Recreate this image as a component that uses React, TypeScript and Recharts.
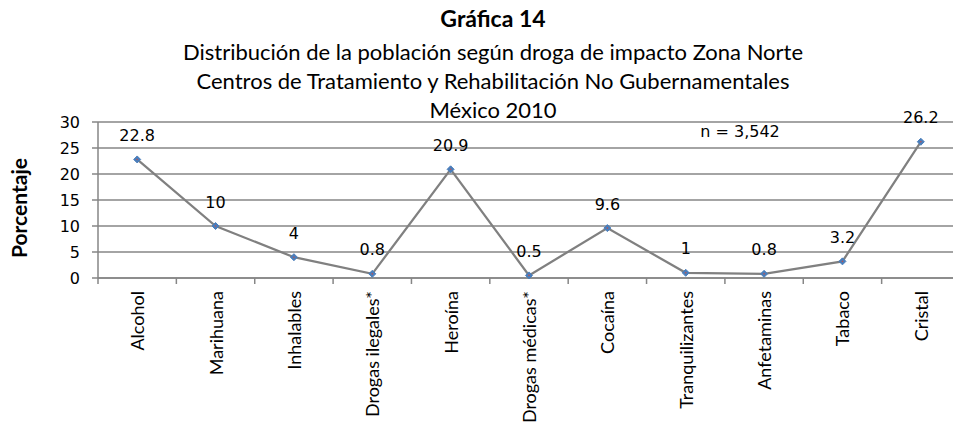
import { LineChart, Line, XAxis, YAxis, CartesianGrid, LabelList } from "recharts";

// Drug of impact, Zona Norte, 2010
const categories = [
  "Alcohol",
  "Marihuana",
  "Inhalables",
  "Drogas ilegales*",
  "Heroína",
  "Drogas médicas*",
  "Cocaína",
  "Tranquilizantes",
  "Anfetaminas",
  "Tabaco",
  "Cristal",
];
const values = [22.8, 10, 4, 0.8, 20.9, 0.5, 9.6, 1, 0.8, 3.2, 26.2];
const yTicks = [0, 5, 10, 15, 20, 25, 30];

const titleLines = [
  "Distribución de la población según droga de impacto Zona Norte",
  "Centros de Tratamiento y Rehabilitación No Gubernamentales",
  "México 2010",
];

const data = categories.map((name, i) => ({ name, value: values[i] }));

const GRID = "#868686";
const NUM_FONT = "'DejaVu Sans', sans-serif";
const TEXT_FONT = "Lato, 'Open Sans', sans-serif";
const X_TICK_SIZE = 6;
const X_TICK_MARGIN = 7;

const Diamond = (props: any) => {
  const { cx, cy } = props;
  if (cx == null || cy == null) return null;
  const r = 3.5;
  return (
    <g>
      <polygon
        points={`${cx},${cy - r} ${cx + r},${cy} ${cx},${cy + r} ${cx - r},${cy}`}
        fill="#4a7ebb"
        stroke="#4a7ebb"
      />
      <circle cx={cx} cy={cy} r={0.8} fill="#c0504d" />
    </g>
  );
};

const ValueLabel = (props: any) => {
  const { x, y, value } = props;
  return (
    <text
      x={x}
      y={y - 24}
      textAnchor="middle"
      dominantBaseline="central"
      fontFamily={NUM_FONT}
      fontSize={16}
      fill="#000"
    >
      {value}
    </text>
  );
};

// category label + Excel-style tick marks on the category boundaries
const CategoryTick = (props: any) => {
  const { x, y, payload, index, visibleTicksCount, width } = props;
  const step = Number(width) / (visibleTicksCount || categories.length);
  const axisY = y - X_TICK_SIZE - X_TICK_MARGIN;
  const isLast = index === (visibleTicksCount || categories.length) - 1;
  return (
    <g>
      <line x1={x - step / 2} x2={x - step / 2} y1={axisY} y2={axisY + X_TICK_SIZE} stroke={GRID} strokeWidth={1.5} />
      {isLast && (
        <line x1={x + step / 2} x2={x + step / 2} y1={axisY} y2={axisY + X_TICK_SIZE} stroke={GRID} strokeWidth={1.5} />
      )}
      <text
        x={x}
        y={y}
        transform={`rotate(-90 ${x} ${y})`}
        textAnchor="end"
        dominantBaseline="central"
        fontFamily={TEXT_FONT}
        fontSize={18}
        fill="#000"
      >
        {payload.value}
      </text>
    </g>
  );
};

export default function App() {
  return (
    <div
      style={{
        position: "fixed",
        left: 0,
        top: 0,
        width: 953,
        height: 423,
        overflow: "hidden",
        background: "#fff",
      }}
    >
      <LineChart width={965} height={423} data={data} margin={{ top: 122, right: 5, bottom: 0, left: 0 }}>
        <CartesianGrid vertical={false} stroke={GRID} strokeWidth={1.5} />
        <XAxis
          dataKey="name"
          scale="band"
          interval={0}
          height={145}
          axisLine={{ stroke: GRID, strokeWidth: 1.5 }}
          tickLine={false}
          tickSize={X_TICK_SIZE}
          tickMargin={X_TICK_MARGIN}
          tick={<CategoryTick />}
        />
        <YAxis
          domain={[0, 30]}
          ticks={yTicks}
          width={98}
          axisLine={{ stroke: GRID, strokeWidth: 1.5 }}
          tickLine={{ stroke: GRID, strokeWidth: 1.5 }}
          tickSize={6}
          tickMargin={12}
          tick={{ fontFamily: NUM_FONT, fontSize: 16, fill: "#000" }}
        />
        <Line
          type="linear"
          dataKey="value"
          stroke="#808080"
          strokeWidth={2.25}
          dot={<Diamond />}
          activeDot={false}
          isAnimationActive={false}
        >
          <LabelList dataKey="value" content={<ValueLabel />} />
        </Line>
      </LineChart>
      <svg
        width={953}
        height={423}
        style={{ position: "absolute", left: 0, top: 0, pointerEvents: "none" }}
      >
        <text x={493} y={27} textAnchor="middle" fontFamily={TEXT_FONT} fontWeight={700} fontSize={23} fill="#000">
          Gráfica 14
        </text>
        {titleLines.map((line, i) => (
          <text
            key={i}
            x={493}
            y={60 + i * 29}
            textAnchor="middle"
            fontFamily={TEXT_FONT}
            fontSize={22}
            fill="#000"
          >
            {line}
          </text>
        ))}
        <text x={740} y={131} textAnchor="middle" dominantBaseline="central" fontFamily={NUM_FONT} fontSize={16} fill="#000">
          n = 3,542
        </text>
        <text
          x={18}
          y={208}
          transform="rotate(-90 18 208)"
          textAnchor="middle"
          dominantBaseline="central"
          fontFamily={TEXT_FONT}
          fontWeight={700}
          fontSize={21}
          fill="#000"
        >
          Porcentaje
        </text>
      </svg>
    </div>
  );
}
